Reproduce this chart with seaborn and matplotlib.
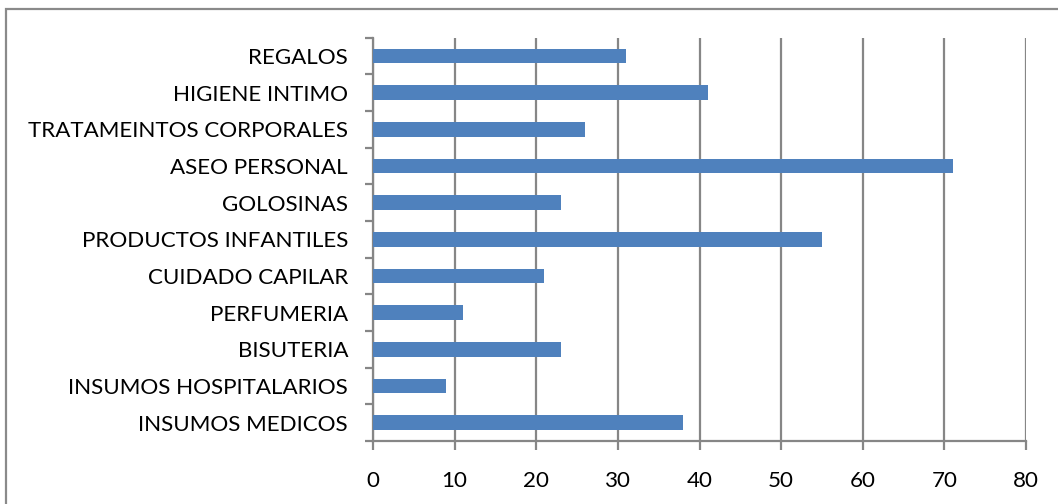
import numpy as np
import pandas as pd
import matplotlib
matplotlib.use("Agg")
import matplotlib.pyplot as plt
from matplotlib.patches import Rectangle
import seaborn as sns

categories = [
    "REGALOS",
    "HIGIENE INTIMO",
    "TRATAMEINTOS CORPORALES",
    "ASEO PERSONAL",
    "GOLOSINAS",
    "PRODUCTOS INFANTILES",
    "CUIDADO CAPILAR",
    "PERFUMERIA",
    "BISUTERIA",
    "INSUMOS HOSPITALARIOS",
    "INSUMOS MEDICOS",
]
values = [31, 41, 26, 71, 23, 55, 21, 11, 23, 9, 38]
x_ticks = [0, 10, 20, 30, 40, 50, 60, 70, 80]

df = pd.DataFrame({"categoria": categories, "valor": values})

sns.set_style("white")
plt.rcParams["font.family"] = ["Lato", "DejaVu Sans"]

grid_col = "#868686"
bar_col = "#4F81BD"

fig = plt.figure(figsize=(10.58, 5.04), dpi=100)
ax = fig.add_axes([373 / 1058, 1 - 441 / 504, (1026 - 373) / 1058, (441 - 37.7) / 504])

sns.barplot(data=df, x="valor", y="categoria", order=categories, orient="h",
            color=bar_col, saturation=1, width=0.4, ax=ax, zorder=3)
for p in ax.patches:
    p.set_edgecolor("none")

ax.set_xlim(0, 80)
ax.set_ylim(len(categories) - 0.5, -0.5)
ax.set_xticks(x_ticks)
ax.set_xticklabels([str(t) for t in x_ticks])
ax.set_xlabel("")
ax.set_ylabel("")

# vertical gridlines
ax.grid(axis="x", color=grid_col, linewidth=1.6, zorder=0)
ax.grid(axis="y", visible=False)
ax.set_axisbelow(True)

for side in ["top", "right"]:
    ax.spines[side].set_visible(False)
for side in ["left", "bottom"]:
    ax.spines[side].set_color(grid_col)
    ax.spines[side].set_linewidth(1.6)

# category ticks sit on the boundaries between bars
ax.set_yticks(np.arange(-0.5, len(categories), 1.0), minor=True)
ax.tick_params(axis="y", which="minor", length=6, width=1.6, color=grid_col, left=True)
ax.tick_params(axis="y", which="major", length=0, pad=18, labelsize=16.1, labelcolor="black")
ax.tick_params(axis="x", which="major", length=6.5, width=1.6, color=grid_col,
               bottom=True, pad=15, labelsize=16.1, labelcolor="black")

# chart-area border
fig.add_artist(Rectangle((6 / 1058, -0.1), 1.2, 1 - 9 / 504 + 0.1,
                         transform=fig.transFigure, fill=False,
                         edgecolor="#8a8a8a", linewidth=1.6))

fig.savefig("out.png", dpi=100)
